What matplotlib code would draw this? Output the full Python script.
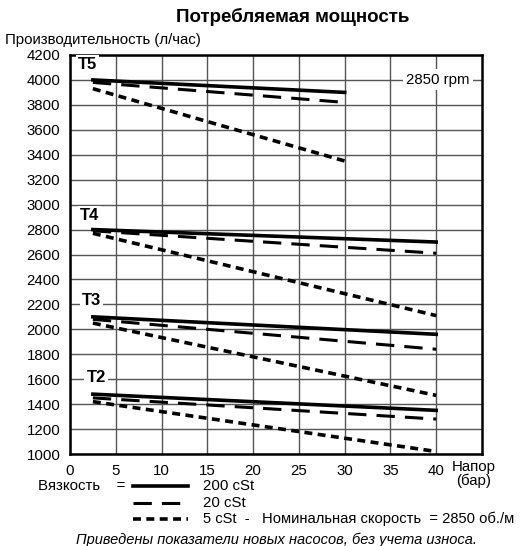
import matplotlib
matplotlib.use("Agg")
import matplotlib.pyplot as plt
from matplotlib.lines import Line2D

plt.rcParams["font.family"] = ["Liberation Sans", "DejaVu Sans"]

# --- Data ---
x_start = 2.5
models = ["T5", "T4", "T3", "T2"]
x_end = [30, 40, 40, 40]
visc_200 = [(4000, 3900), (2800, 2700), (2100, 1960), (1480, 1350)]
visc_20 = [(3980, 3820), (2790, 2610), (2080, 1840), (1450, 1280)]
visc_5 = [(3930, 3350), (2770, 2110), (2050, 1470), (1420, 1020)]
label_y = [4120, 2915, 2230, 1610]
label_x = [0.9, 1.1, 1.3, 1.8]

xticks = [0, 5, 10, 15, 20, 25, 30, 35, 40]
yticks = list(range(1000, 4201, 200))

fig = plt.figure(figsize=(5.24, 5.46), dpi=100)
ax = fig.add_axes([70 / 524, 1 - 454 / 546, 412 / 524, 399 / 546])

styles = {
    "200": dict(color="black", lw=2.6, ls="-"),
    "20": dict(color="black", lw=2.2, ls=(0, (6, 3.3))),
    "5": dict(color="black", lw=2.6, ls=(0, (2.2, 1.5))),
}

for i, m in enumerate(models):
    xs = [x_start, x_end[i]]
    ax.plot(xs, visc_200[i], **styles["200"], zorder=3)
    ax.plot(xs, visc_20[i], **styles["20"], zorder=3)
    ax.plot(xs, visc_5[i], **styles["5"], zorder=3)
    ax.text(label_x[i], label_y[i], m, fontsize=12, fontweight="bold", va="center",
            ha="left", bbox=dict(facecolor="white", edgecolor="none", pad=1.5), zorder=4)

ax.text(40.2, 4000, "2850 rpm", fontsize=10.8, ha="center", va="center",
        bbox=dict(facecolor="white", edgecolor="none", pad=2.5), zorder=4)

ax.set_xlim(0, 45)
ax.set_ylim(1000, 4200)
ax.set_xticks(xticks)
ax.set_yticks(yticks)
ax.tick_params(length=0, labelsize=10.8, pad=7)
ax.grid(True, color="#555555", lw=1.0, zorder=0)
for s in ax.spines.values():
    s.set_linewidth(1.8)

fig.text(293 / 524, 1 - 17 / 546, "Потребляемая мощность", ha="center", va="center",
         fontsize=13.5, fontweight="bold")
fig.text(5 / 524, 1 - 40 / 546, "Производительность (л/час)", ha="left", va="center",
         fontsize=10.8)
fig.text(452 / 524, 1 - 474 / 546, "Напор\n(бар)", ha="left", va="center", fontsize=10.8,
         linespacing=0.95, multialignment="center")

# legend
leg_rows = [486, 503, 519]
fig.text(38 / 524, 1 - leg_rows[0] / 546, "Вязкость    =", ha="left", va="center", fontsize=10.8)
for row, key in zip(leg_rows, ["200", "20", "5"]):
    yy = 1 - row / 546
    fig.add_artist(Line2D([133 / 524, 188 / 524], [yy, yy], transform=fig.transFigure,
                          **styles[key]))
fig.text(203 / 524, 1 - leg_rows[0] / 546, "200 cSt", ha="left", va="center", fontsize=10.8)
fig.text(203 / 524, 1 - leg_rows[1] / 546, "20 cSt", ha="left", va="center", fontsize=10.8)
fig.text(203 / 524, 1 - leg_rows[2] / 546,
         "5 cSt  -   Номинальная скорость  = 2850 об./м",
         ha="left", va="center", fontsize=10.6)
fig.text(276 / 524, 1 - 540 / 546, "Приведены показатели новых насосов, без учета износа.",
         ha="center", va="center", fontsize=10.5, style="italic")

fig.savefig("out.png", dpi=100)
